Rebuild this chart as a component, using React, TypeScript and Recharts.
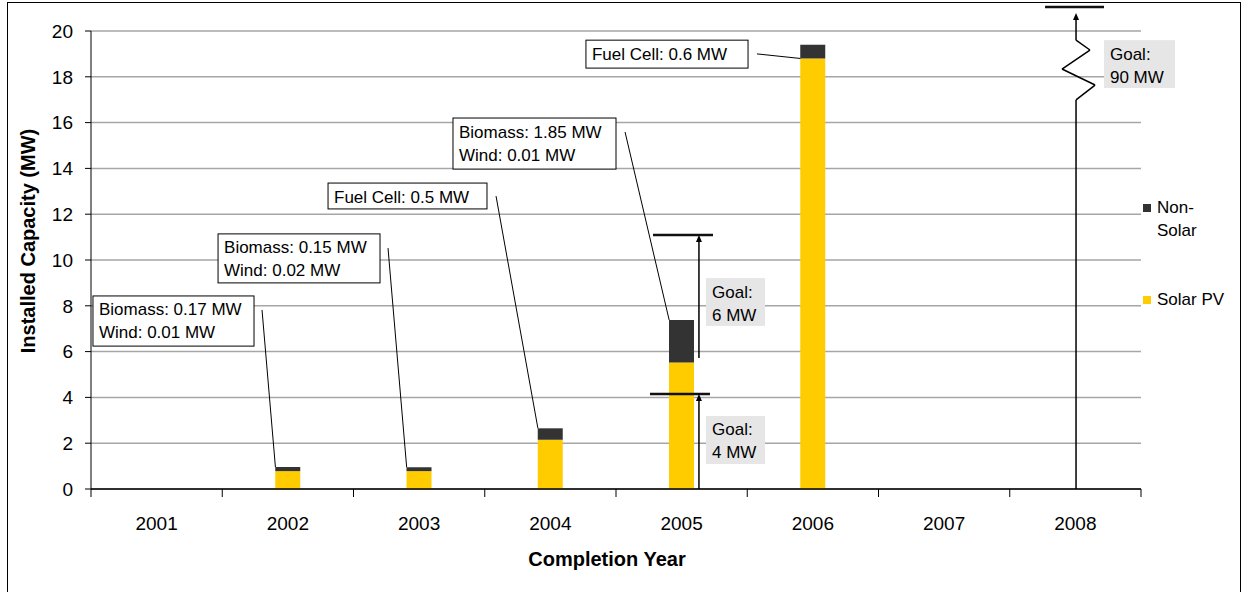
import React from 'react'
import { BarChart, Bar, XAxis, YAxis, CartesianGrid, ReferenceLine, ReferenceArea } from 'recharts'

// Installed capacity by completion year (MW)
const years = ['2001', '2002', '2003', '2004', '2005', '2006', '2007', '2008']
const solarPV = [0, 0.78, 0.78, 2.15, 5.52, 18.8, 0, 0]
const biomass = [0, 0.17, 0.15, 0, 1.85, 0, 0, 0]
const wind = [0, 0.01, 0.02, 0, 0.01, 0, 0, 0]
const fuelCell = [0, 0, 0, 0.5, 0, 0.6, 0, 0]
const yTicks = [0, 2, 4, 6, 8, 10, 12, 14, 16, 18, 20]

const nonSolar = years.map((_, i) => +(biomass[i] + wind[i] + fuelCell[i]).toFixed(2))

const data = years.map((year, i) => ({
  year,
  pos: i + 0.5, // band centre on the numeric overlay axis
  solar: solarPV[i] || null,
  nonSolar: nonSolar[i] || null,
}))

const SOLAR = '#FFCC00'
const NON_SOLAR = '#333333'
const FONT = '"Liberation Sans", Arial, sans-serif'
const BAR_HALF = 0.095 // half bar width in band units

const sourceLines = (i: number) => {
  const out: string[] = []
  if (biomass[i]) out.push(`Biomass: ${biomass[i]} MW`)
  if (wind[i]) out.push(`Wind: ${wind[i]} MW`)
  if (fuelCell[i]) out.push(`Fuel Cell: ${fuelCell[i]} MW`)
  return out
}

// callout boxes on the numeric overlay axis: [x1, x2, yTop, yBottom]
const callouts = [
  { idx: 1, box: [0.015, 1.242, 8.43, 6.24], from: [1.303, 7.82], atSolar: false },
  { idx: 2, box: [0.968, 2.202, 11.14, 9.0], from: [2.263, 10.52], atSolar: false },
  { idx: 3, box: [1.806, 3.017, 13.36, 12.23], from: [3.086, 12.79], atSolar: false },
  { idx: 4, box: [2.758, 4.0, 16.2, 13.97], from: [4.069, 15.59], atSolar: false },
  { idx: 5, box: [3.771, 5.006, 19.6, 18.38], from: [5.074, 19.0], atSolar: true },
]

const goalBoxes = [
  { text: ['Goal:', '6 MW'], box: [4.686, 5.135, 9.21, 7.12] },
  { text: ['Goal:', '4 MW'], box: [4.686, 5.135, 3.19, 1.09] },
  { text: ['Goal:', '90 MW'], box: [7.718, 8.259, 19.6, 17.51] },
]

const goalBars = [
  { x: [4.259, 4.716], y: 4.15 },
  { x: [4.282, 4.739], y: 11.09 },
  { x: [7.269, 7.718], y: 21.05 },
]

const goalArrows = [
  { x: 4.632, y: [0, 4.15] },
  { x: 4.632, y: [5.72, 11.09] },
]

// broken-scale arrow for the 2008 goal
const zigzag = [
  [7.505, 0], [7.505, 16.99], [7.65, 17.64], [7.398, 18.34],
  [7.611, 19.17], [7.505, 19.6], [7.505, 20.79],
]

const ArrowLine = (props: any) => {
  const { x1, y1, x2, y2 } = props
  const a = Math.atan2(y2 - y1, x2 - x1)
  const len = 7
  const w = 3
  const bx = x2 - len * Math.cos(a)
  const by = y2 - len * Math.sin(a)
  const pts = `${x2},${y2} ${bx + w * Math.sin(a)},${by - w * Math.cos(a)} ${bx - w * Math.sin(a)},${by + w * Math.cos(a)}`
  return (
    <g>
      <line x1={x1} y1={y1} x2={bx} y2={by} stroke="#000" strokeWidth={1.5} />
      <polygon points={pts} fill="#000" />
    </g>
  )
}

const GoalBar = (props: any) => {
  const { x1, y1, x2, y2 } = props
  return <line x1={x1} y1={y1} x2={x2} y2={y2} stroke="#111" strokeWidth={2.5} />
}

const TextBox = (props: any) => {
  const { x, y, width, height, lines, fill, stroke } = props
  return (
    <g>
      <rect x={x} y={y} width={width} height={height} fill={fill} stroke={stroke} strokeWidth={1} />
      {lines.map((t: string, k: number) => (
        <text key={k} x={x + 6} y={y + 14 + k * 23} dominantBaseline="central" fontSize={17} fill="#000">
          {t}
        </text>
      ))}
    </g>
  )
}

const legendItems = [
  { name: 'Non-Solar', color: NON_SOLAR, top: 193 },
  { name: 'Solar PV', color: SOLAR, top: 285 },
]

export default function App() {
  return (
    <div
      style={{
        position: 'absolute',
        left: 7,
        top: 2,
        boxSizing: 'border-box',
        width: 1234,
        height: 590,
        borderTop: '1px solid #000',
        borderLeft: '1px solid #000',
        borderRight: '1px solid #000',
        fontFamily: FONT,
        background: '#fff',
      }}
    >
      <BarChart
        width={1228}
        height={589}
        data={data}
        margin={{ top: 28, right: 95, left: 23, bottom: 73 }}
        barSize={25}
        style={{ overflow: 'visible' }}
      >
        <CartesianGrid vertical={false} stroke="#a6a6a6" strokeWidth={1.5} />
        <XAxis
          dataKey="year"
          interval={0}
          tickLine={false}
          axisLine={{ stroke: '#000', strokeWidth: 1.5 }}
          tick={{ fill: '#000', fontSize: 19 }}
          tickMargin={22}
          height={30}
        />
        <XAxis xAxisId="n" dataKey="pos" type="number" domain={[0, 8]} allowDataOverflow hide />
        <YAxis
          domain={[0, 20]}
          ticks={yTicks}
          width={60}
          axisLine={{ stroke: '#000', strokeWidth: 1 }}
          tickLine={{ stroke: '#000' }}
          tickSize={6}
          tickMargin={12}
          tick={{ fill: '#000', fontSize: 19 }}
        />
        <Bar dataKey="solar" stackId="cap" fill={SOLAR} isAnimationActive={false} />
        <Bar dataKey="nonSolar" stackId="cap" fill={NON_SOLAR} isAnimationActive={false} />

        {/* tick marks between year categories */}
        {years.concat('end').map((_, i) => (
          <ReferenceLine
            key={`tk${i}`}
            xAxisId="n"
            ifOverflow="visible"
            stroke="#000"
            segment={[{ x: i, y: 0 }, { x: i, y: -0.35 }]}
          />
        ))}

        {callouts.map((c) => {
          const endY = c.atSolar ? solarPV[c.idx] : solarPV[c.idx] + nonSolar[c.idx]
          return (
            <ReferenceLine
              key={`cl${c.idx}`}
              xAxisId="n"
              ifOverflow="visible"
              stroke="#000"
              strokeWidth={1}
              segment={[{ x: c.from[0], y: c.from[1] }, { x: c.idx + 0.5 - BAR_HALF, y: endY }]}
            />
          )
        })}
        {callouts.map((c) => (
          <ReferenceArea
            key={`cb${c.idx}`}
            xAxisId="n"
            ifOverflow="visible"
            x1={c.box[0]}
            x2={c.box[1]}
            y1={c.box[3]}
            y2={c.box[2]}
            shape={(p: any) => <TextBox {...p} lines={sourceLines(c.idx)} fill="#fff" stroke="#000" />}
          />
        ))}

        {goalBars.map((g, i) => (
          <ReferenceLine
            key={`gb${i}`}
            xAxisId="n"
            ifOverflow="visible"
            segment={[{ x: g.x[0], y: g.y }, { x: g.x[1], y: g.y }]}
            shape={GoalBar}
          />
        ))}
        {goalArrows.map((g, i) => (
          <ReferenceLine
            key={`ga${i}`}
            xAxisId="n"
            ifOverflow="visible"
            segment={[{ x: g.x, y: g.y[0] }, { x: g.x, y: g.y[1] }]}
            shape={ArrowLine}
          />
        ))}
        {zigzag.slice(1).map((pt, i) => {
          const prev = zigzag[i]
          const last = i === zigzag.length - 2
          return (
            <ReferenceLine
              key={`zz${i}`}
              xAxisId="n"
              ifOverflow="visible"
              stroke="#000"
              strokeWidth={1.5}
              segment={[{ x: prev[0], y: prev[1] }, { x: pt[0], y: pt[1] }]}
              shape={last ? ArrowLine : undefined}
            />
          )
        })}
        {goalBoxes.map((g, i) => (
          <ReferenceArea
            key={`gx${i}`}
            xAxisId="n"
            ifOverflow="visible"
            x1={g.box[0]}
            x2={g.box[1]}
            y1={g.box[3]}
            y2={g.box[2]}
            shape={(p: any) => <TextBox {...p} lines={g.text} fill="#e6e6e6" stroke="none" />}
          />
        ))}
      </BarChart>

      {legendItems.map((it) => (
        <div
          key={it.name}
          style={{ position: 'absolute', left: 1135, top: it.top, display: 'flex', fontSize: 17, lineHeight: '23px' }}
        >
          <span style={{ width: 8, height: 8, background: it.color, marginTop: 8, marginRight: 6, flex: 'none' }} />
          <span style={{ width: 72 }}>{it.name}</span>
        </div>
      ))}

      <div
        style={{
          position: 'absolute',
          left: 599,
          top: 556,
          transform: 'translate(-50%, -50%)',
          fontSize: 20,
          fontWeight: 'bold',
          whiteSpace: 'nowrap',
        }}
      >
        Completion Year
      </div>
      <div
        style={{
          position: 'absolute',
          left: 20,
          top: 238,
          transform: 'translate(-50%, -50%) rotate(-90deg)',
          fontSize: 20,
          fontWeight: 'bold',
          whiteSpace: 'nowrap',
        }}
      >
        Installed Capacity (MW)
      </div>
    </div>
  )
}
